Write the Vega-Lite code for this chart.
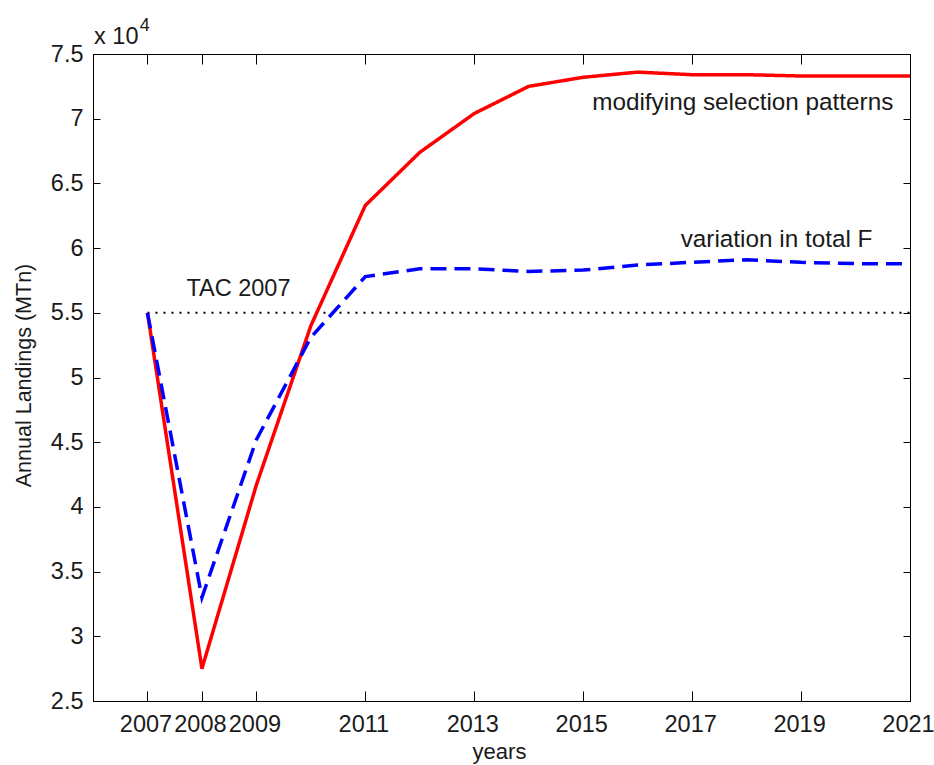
{
  "$schema": "https://vega.github.io/schema/vega-lite/v6.json",
  "autosize": "none",
  "width": 817,
  "height": 647,
  "padding": {"left": 93, "top": 54, "right": 24, "bottom": 64},
  "background": "white",
  "config": {
    "view": {"stroke": "black", "strokeWidth": 1},
    "font": "Liberation Sans",
    "axis": {"grid": false, "domainColor": "black", "tickColor": "black", "labelColor": "#1a1a1a", "labelFont": "Liberation Sans", "titleFont": "Liberation Sans", "titleFontWeight": "normal", "labelFlush": false}
  },
  "datasets": {
    "landings": [
      {"year": 2007, "series": "modifying selection patterns", "landings": 55000},
      {"year": 2008, "series": "modifying selection patterns", "landings": 27500},
      {"year": 2009, "series": "modifying selection patterns", "landings": 41700},
      {"year": 2010, "series": "modifying selection patterns", "landings": 54000},
      {"year": 2011, "series": "modifying selection patterns", "landings": 63300},
      {"year": 2012, "series": "modifying selection patterns", "landings": 67400},
      {"year": 2013, "series": "modifying selection patterns", "landings": 70400},
      {"year": 2014, "series": "modifying selection patterns", "landings": 72500},
      {"year": 2015, "series": "modifying selection patterns", "landings": 73200},
      {"year": 2016, "series": "modifying selection patterns", "landings": 73600},
      {"year": 2017, "series": "modifying selection patterns", "landings": 73400},
      {"year": 2018, "series": "modifying selection patterns", "landings": 73400},
      {"year": 2019, "series": "modifying selection patterns", "landings": 73300},
      {"year": 2020, "series": "modifying selection patterns", "landings": 73300},
      {"year": 2021, "series": "modifying selection patterns", "landings": 73300},
      {"year": 2007, "series": "variation in total F", "landings": 55000},
      {"year": 2008, "series": "variation in total F", "landings": 33000},
      {"year": 2009, "series": "variation in total F", "landings": 45200},
      {"year": 2010, "series": "variation in total F", "landings": 53100},
      {"year": 2011, "series": "variation in total F", "landings": 57800},
      {"year": 2012, "series": "variation in total F", "landings": 58400},
      {"year": 2013, "series": "variation in total F", "landings": 58400},
      {"year": 2014, "series": "variation in total F", "landings": 58200},
      {"year": 2015, "series": "variation in total F", "landings": 58300},
      {"year": 2016, "series": "variation in total F", "landings": 58700},
      {"year": 2017, "series": "variation in total F", "landings": 58900},
      {"year": 2018, "series": "variation in total F", "landings": 59100},
      {"year": 2019, "series": "variation in total F", "landings": 58900},
      {"year": 2020, "series": "variation in total F", "landings": 58800},
      {"year": 2021, "series": "variation in total F", "landings": 58800}
    ],
    "tac": [
      {"start": 2007, "end": 2021, "tac": 55000}
    ],
    "one": [{}]
  },
  "resolve": {"axis": {"x": "independent", "y": "independent"}},
  "layer": [
    {
      "data": {"name": "tac"},
      "mark": {"type": "rule", "color": "black", "strokeWidth": 2, "strokeDash": [2, 6]},
      "encoding": {
        "x": {"field": "start", "type": "quantitative", "scale": {"domain": [2006, 2021], "nice": false, "zero": false},
              "axis": {"orient": "top", "labels": false, "title": null, "tickSize": -10, "values": [2007, 2008, 2009, 2011, 2013, 2015, 2017, 2019, 2021]}},
        "x2": {"field": "end"},
        "y": {"field": "tac", "type": "quantitative", "scale": {"domain": [25000, 75000], "nice": false, "zero": false},
              "axis": {"orient": "right", "labels": false, "title": null, "tickSize": -7, "values": [25000, 30000, 35000, 40000, 45000, 50000, 55000, 60000, 65000, 70000, 75000]}}
      }
    },
    {
      "data": {"name": "landings"},
      "mark": {"type": "line", "strokeWidth": 3.5, "clip": true},
      "encoding": {
        "x": {"field": "year", "type": "quantitative",
              "axis": {"orient": "bottom", "values": [2007, 2008, 2009, 2011, 2013, 2015, 2017, 2019, 2021], "format": "d",
                       "tickSize": -10, "labelPadding": 21, "labelFontSize": 23.5, "labelOffset": -2,
                       "title": "years", "titleFontSize": 22, "titleX": 406, "titleY": 57, "titleBaseline": "alphabetic", "titleColor": "#1a1a1a"}},
        "y": {"field": "landings", "type": "quantitative",
              "axis": {"orient": "left", "values": [25000, 30000, 35000, 40000, 45000, 50000, 55000, 60000, 65000, 70000, 75000],
                       "labelExpr": "format(datum.value / 10000, '~g')",
                       "tickSize": -7, "labelPadding": 17, "labelFontSize": 23.5,
                       "title": "Annual Landings (MTn)", "titleFontSize": 21.5, "titleX": -69, "titleY": 321, "titleAngle": -90, "titleBaseline": "middle", "titleAlign": "center", "titleColor": "#1a1a1a"}},
        "color": {"field": "series", "type": "nominal", "legend": null,
                  "scale": {"domain": ["modifying selection patterns", "variation in total F"], "range": ["#ff0000", "#0000ff"]}},
        "strokeDash": {"field": "series", "type": "nominal", "legend": null,
                       "scale": {"domain": ["modifying selection patterns", "variation in total F"], "range": [[1, 0], [16, 8]]}},
        "order": {"field": "year", "type": "quantitative"}
      }
    },
    {
      "data": {"name": "one"},
      "mark": {"type": "text", "text": "TAC 2007", "fontSize": 23.5, "align": "center", "baseline": "middle", "color": "#1a1a1a"},
      "encoding": {"x": {"datum": 2008.67, "type": "quantitative", "axis": null}, "y": {"datum": 56860, "type": "quantitative", "axis": null}}
    },
    {
      "data": {"name": "one"},
      "mark": {"type": "text", "text": "modifying selection patterns", "fontSize": 24.3, "align": "center", "baseline": "middle", "color": "#1a1a1a"},
      "encoding": {"x": {"datum": 2017.93, "type": "quantitative", "axis": null}, "y": {"datum": 71190, "type": "quantitative", "axis": null}}
    },
    {
      "data": {"name": "one"},
      "mark": {"type": "text", "text": "variation in total F", "fontSize": 24.3, "align": "center", "baseline": "middle", "color": "#1a1a1a"},
      "encoding": {"x": {"datum": 2018.55, "type": "quantitative", "axis": null}, "y": {"datum": 60600, "type": "quantitative", "axis": null}}
    },
    {
      "data": {"name": "one"},
      "mark": {"type": "text", "text": "x 10", "fontSize": 23.5, "align": "left", "baseline": "middle", "color": "#1a1a1a"},
      "encoding": {"x": {"datum": 2006.02, "type": "quantitative", "axis": null}, "y": {"datum": 76290, "type": "quantitative", "axis": null}}
    },
    {
      "data": {"name": "one"},
      "mark": {"type": "text", "text": "4", "fontSize": 18, "align": "left", "baseline": "middle", "color": "#1a1a1a"},
      "encoding": {"x": {"datum": 2006.86, "type": "quantitative", "axis": null}, "y": {"datum": 77140, "type": "quantitative", "axis": null}}
    }
  ]
}
